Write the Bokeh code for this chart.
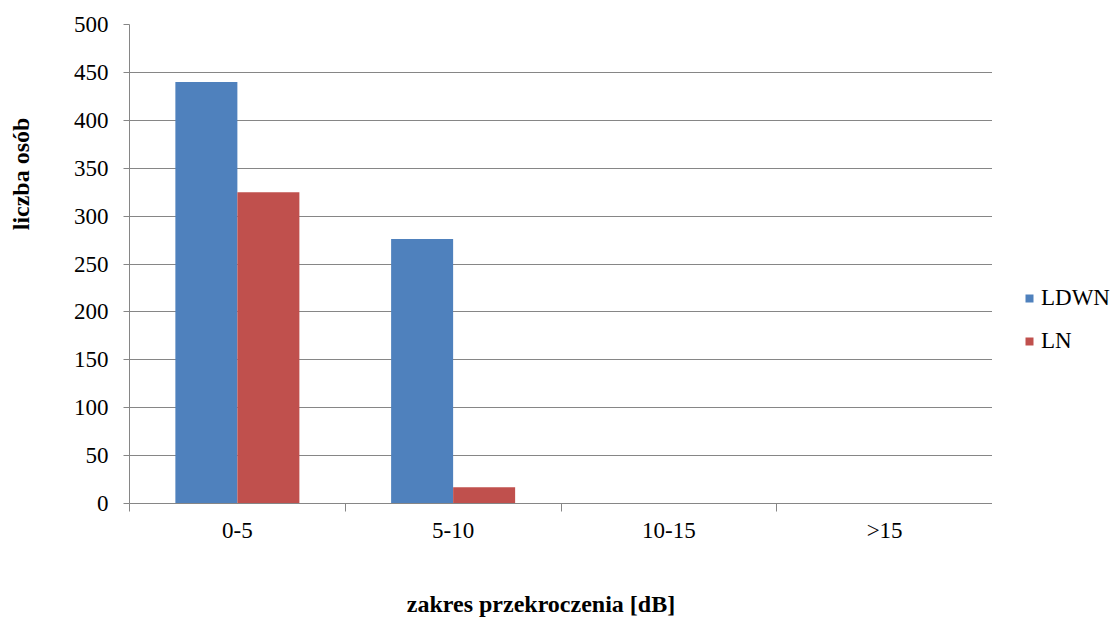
from bokeh.plotting import figure
from bokeh.layouts import row
from bokeh.models import (Range1d, FixedTicker, Legend, LegendItem, ColumnDataSource,
                          LinearAxis)
from bokeh.embed import file_html
from bokeh.resources import INLINE

# Data
categories = ["0-5", "5-10", "10-15", ">15"]
ldwn = [440, 276, 0, 0]
ln = [325, 17, 0, 0]
series_names = ["LDWN", "LN"]
y_ticks = [0, 50, 100, 150, 200, 250, 300, 350, 400, 450, 500]
x_title = "zakres przekroczenia [dB]"
y_title = "liczba osób"

BLUE = "#4F81BD"
RED = "#C0504D"
GRID = "#868686"
FONT = "'Liberation Serif', 'Times New Roman', serif"

bar_w = 0.2874
idx = list(range(len(categories)))
centers = [i + 0.5 for i in idx]
y_max = 500

# where the axis titles sit along their axes (fraction of the axis length)
x_title_at = 0.4768 * len(categories)
y_title_at = 0.688 * y_max

src_a = ColumnDataSource(dict(x=[c - bar_w / 2 for c in centers], top=ldwn))
src_b = ColumnDataSource(dict(x=[c + bar_w / 2 for c in centers], top=ln))

p = figure(frame_width=863, frame_height=479, output_backend="svg",
           toolbar_location=None,
           x_range=Range1d(0, len(categories)), y_range=Range1d(0, y_max),
           min_border_left=129, min_border_right=0, min_border_top=24,
           min_border_bottom=116)

p.vbar(x="x", top="top", bottom=0, width=bar_w, source=src_a,
       fill_color=BLUE, line_color=None)
p.vbar(x="x", top="top", bottom=0, width=bar_w, source=src_b,
       fill_color=RED, line_color=None)

p.outline_line_color = None
p.background_fill_color = "white"
p.border_fill_color = "white"

# x axis: labels at category centers, ticks at category boundaries
xa = p.xaxis[0]
xa.ticker = FixedTicker(ticks=centers, minor_ticks=[0] + [i + 1 for i in idx])
xa.major_label_overrides = {c: cat for c, cat in zip(centers, categories)}
xa.major_tick_out = 0
xa.major_tick_in = 0
xa.minor_tick_out = 8
xa.minor_tick_in = 0
xa.minor_tick_line_color = GRID
xa.axis_line_color = GRID
xa.major_label_text_font = FONT
xa.major_label_text_font_size = "23px"
xa.major_label_text_color = "black"
xa.major_label_standoff = 6

ya = p.yaxis[0]
ya.ticker = FixedTicker(ticks=y_ticks, minor_ticks=[])
ya.major_tick_out = 6
ya.major_tick_in = 0
ya.major_tick_line_color = GRID
ya.axis_line_color = GRID
ya.major_label_text_font = FONT
ya.major_label_text_font_size = "23px"
ya.major_label_text_color = "black"
ya.major_label_standoff = 15


def title_axis(pos, text, standoff, orientation="horizontal"):
    ax = LinearAxis(ticker=FixedTicker(ticks=[pos], minor_ticks=[]),
                    major_label_overrides={pos: text},
                    major_label_orientation=orientation,
                    major_label_standoff=standoff,
                    major_label_text_font=FONT,
                    major_label_text_font_size="24px",
                    major_label_text_font_style="bold",
                    major_label_text_color="black",
                    major_tick_out=0, major_tick_in=0,
                    minor_tick_out=0, minor_tick_in=0,
                    axis_line_color=None, major_tick_line_color=None,
                    minor_tick_line_color=None)
    return ax


p.add_layout(title_axis(x_title_at, x_title, 45), "below")
p.add_layout(title_axis(y_title_at, y_title, 36, "vertical"), "left")

p.xgrid.grid_line_color = None
p.ygrid.ticker = FixedTicker(ticks=y_ticks)
p.ygrid.grid_line_color = GRID
p.ygrid.grid_line_width = 1

# legend panel to the right of the plot area (its frame lines up with the plot's)
lp = figure(width=123, height=619, output_backend="svg", toolbar_location=None,
            x_range=Range1d(0, 1), y_range=Range1d(0, 1),
            x_axis_type=None, y_axis_type=None, min_border=0)
lp.outline_line_color = None
lp.xgrid.grid_line_color = None
lp.ygrid.grid_line_color = None
lp.border_fill_color = "white"
la = lp.vbar(x=[-5], top=[0], bottom=[0], width=0.1, fill_color=BLUE, line_color=None)
lb = lp.vbar(x=[-5], top=[0], bottom=[0], width=0.1, fill_color=RED, line_color=None)

legend = Legend(items=[LegendItem(label=series_names[0], renderers=[la]),
                       LegendItem(label=series_names[1], renderers=[lb])],
                location=(32, 149), orientation="vertical",
                glyph_width=10, glyph_height=10, label_height=26,
                label_standoff=7, spacing=17, padding=0, margin=0,
                border_line_color=None, background_fill_alpha=0,
                label_text_font=FONT, label_text_font_size="23px",
                label_text_color="black")
lp.add_layout(legend)

layout = row(p, lp, spacing=0)
open("out.html", "w").write(file_html(layout, INLINE))
